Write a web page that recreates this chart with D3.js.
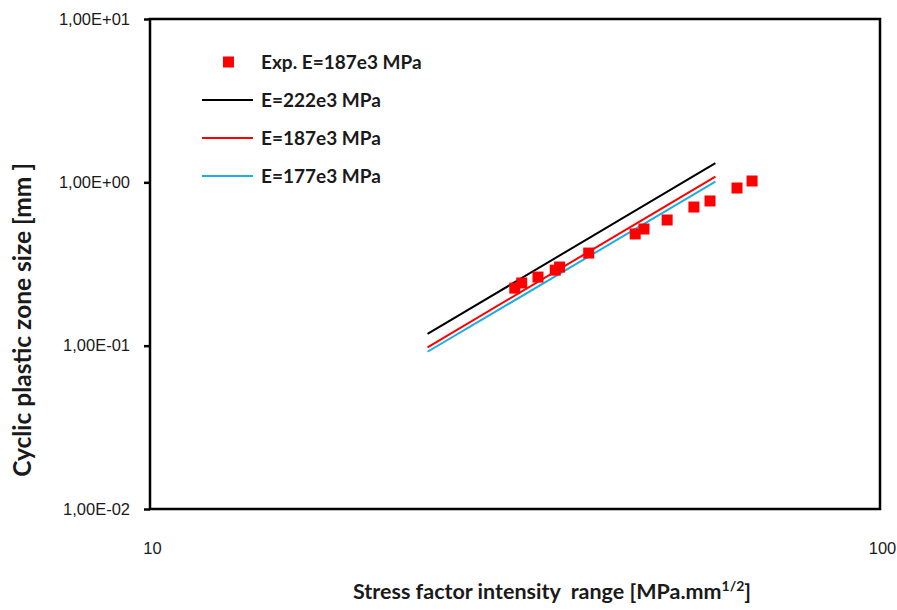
<!DOCTYPE html>
<html>
<head>
<meta charset="utf-8">
<script src="https://cdn.jsdelivr.net/npm/d3@7"></script>
<style>
  body { margin: 0; background: #fff; }
  svg { font-family: Lato, "Open Sans", sans-serif; }
</style>
</head>
<body>
<svg width="897" height="610"></svg>
<script>
// experimental points (stress intensity range, cyclic plastic zone size)
var expK    = [31.6, 32.3, 34.0, 35.9, 36.4, 39.9, 46.2, 47.5, 51.1, 55.6, 58.5, 63.7, 66.8];
var expSize = [0.225, 0.242, 0.263, 0.290, 0.303, 0.369, 0.483, 0.518, 0.588, 0.706, 0.769, 0.923, 1.019];

// model lines
var modelK     = [24.0, 59.5];
var size222    = [0.118, 1.313];
var size187    = [0.0977, 1.083];
var size177    = [0.0918, 1.009];

var xTicks = [10, 100];
var yTicks = [0.01, 0.1, 1, 10];

var seriesNames = ["Exp. E=187e3 MPa", "E=222e3 MPa", "E=187e3 MPa", "E=177e3 MPa"];
var seriesColors = ["#ff0000", "#000000", "#ff0000", "#1aaee8"];

var svg = d3.select("svg");
var margin = {top: 19, right: 17, bottom: 101, left: 150};
var width = 897 - margin.left - margin.right;
var height = 610 - margin.top - margin.bottom;

var x = d3.scaleLog().domain([10, 100]).range([0, width]);
var y = d3.scaleLog().domain([0.01, 10]).range([height, 0]);

var g = svg.append("g")
  .attr("transform", "translate(" + margin.left + "," + margin.top + ")");

// format like 1,00E+01
function sciFormat(v) {
  var e = Math.round(Math.log10(v));
  var m = v / Math.pow(10, e);
  var sign = e < 0 ? "-" : "+";
  var ee = Math.abs(e);
  return m.toFixed(2).replace(".", ",") + "E" + sign + (ee < 10 ? "0" : "") + ee;
}

// y axis
var yAxis = g.append("g")
  .call(d3.axisLeft(y).tickValues(yTicks).tickFormat(sciFormat).tickSize(6).tickPadding(14));
yAxis.select(".domain").remove();
yAxis.selectAll("line").attr("stroke", "#000").attr("stroke-width", 2.5);
yAxis.selectAll("text").attr("font-size", 16.5).attr("fill", "#1a1a1a");

// x axis (labels only)
var xAxis = g.append("g")
  .attr("transform", "translate(0," + height + ")")
  .call(d3.axisBottom(x).tickValues(xTicks).tickFormat(d3.format("d")).tickSize(0).tickPadding(33));
xAxis.select(".domain").remove();
xAxis.selectAll("text").attr("font-size", 16.5).attr("fill", "#1a1a1a")
  .attr("dx", 2);

// plot frame
g.append("rect")
  .attr("x", 0).attr("y", 0)
  .attr("width", width).attr("height", height)
  .attr("fill", "none")
  .attr("stroke", "#000")
  .attr("stroke-width", 2.5);

// model lines
var line = d3.line()
  .x(function(d) { return x(d[0]); })
  .y(function(d) { return y(d[1]); });

[size222, size187, size177].forEach(function(s, i) {
  g.append("path")
    .datum(modelK.map(function(k, j) { return [k, s[j]]; }))
    .attr("fill", "none")
    .attr("stroke", seriesColors[i + 1])
    .attr("stroke-width", 2)
    .attr("d", line);
});

// experimental squares
var sq = 11;
g.selectAll(".pt")
  .data(expK.map(function(k, i) { return [k, expSize[i]]; }))
  .enter().append("rect")
  .attr("class", "pt")
  .attr("x", function(d) { return x(d[0]) - sq / 2; })
  .attr("y", function(d) { return y(d[1]) - sq / 2; })
  .attr("width", sq)
  .attr("height", sq)
  .attr("fill", "#ff0000");

// legend
var legend = svg.append("g").attr("transform", "translate(202,62)");
seriesNames.forEach(function(name, i) {
  var row = legend.append("g").attr("transform", "translate(0," + (i * 38) + ")");
  if (i === 0) {
    row.append("rect").attr("x", 21).attr("y", -5.5).attr("width", 11).attr("height", 11)
      .attr("fill", seriesColors[0]);
  } else {
    row.append("line").attr("x1", 0).attr("x2", 51).attr("y1", 0).attr("y2", 0)
      .attr("stroke", seriesColors[i]).attr("stroke-width", 2);
  }
  row.append("text")
    .attr("x", 59).attr("y", 0).attr("dy", "0.35em")
    .attr("font-size", 19).attr("font-weight", "bold").attr("fill", "#1a1a1a")
    .text(name);
});

// y label
svg.append("text")
  .attr("transform", "translate(31,320) rotate(-90)")
  .attr("text-anchor", "middle")
  .attr("font-size", 24.5).attr("font-weight", "bold").attr("fill", "#1a1a1a")
  .attr("xml:space", "preserve")
  .text("Cyclic plastic zone size [mm ]");

// x label
var xl = svg.append("text")
  .attr("x", 552).attr("y", 599)
  .attr("text-anchor", "middle")
  .attr("font-size", 21.5).attr("font-weight", "bold").attr("fill", "#1a1a1a")
  .attr("xml:space", "preserve")
  .text("Stress factor intensity  range [MPa.mm");
xl.append("tspan").attr("dy", -8).attr("font-size", 14).text("1/2");
xl.append("tspan").attr("dy", 8).text("]");
</script>
</body>
</html>
